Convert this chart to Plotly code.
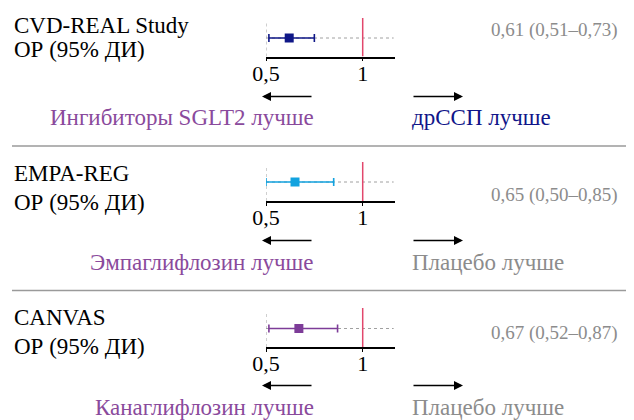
import plotly.graph_objects as go

W, H = 634, 420
OFF = 8  # page body margin: the figure is drawn 8px right/down of the window corner

# ---- data ----
studies = ["CVD-REAL Study", "EMPA-REG", "CANVAS"]
subtitle = "ОР (95% ДИ)"
hr_point = [0.62, 0.65, 0.67]
hr_lower = [0.515, 0.50, 0.515]
hr_upper = [0.75, 0.85, 0.87]
value_labels = ["0,61 (0,51–0,73)", "0,65 (0,50–0,85)", "0,67 (0,52–0,87)"]
left_labels = ["Ингибиторы SGLT2 лучше", "Эмпаглифлозин лучше", "Канаглифлозин лучше"]
right_labels = ["дрССП лучше", "Плацебо лучше", "Плацебо лучше"]
tick_vals = [0.5, 1]
tick_text = ["0,5", "1"]
x_range = [0.5, 1.167]

# ---- styles ----
FONT = "Liberation Serif"
ci_colors = ["#0f1787", "#12a2df", "#7d3c98"]
left_colors = ["#8a4a9c", "#8a4a9c", "#8a4a9c"]
right_colors = ["#101589", "#8c8c8c", "#8c8c8c"]
RED = "#e2476c"
GRAY_DOT = "#a0a0a0"

# per-panel layout, in window pixels
red_top = [18, 162, 308]
ci_y = [38, 182, 328.5]
axis_y = [56.5, 201, 347]
title_y = [25.5, 174, 317.5]
sub_y = [50, 202.5, 346]
value_y = [30, 195, 333]
arrow_y = [96.5, 240.5, 385.5]
label_y = [117.5, 262.5, 407.5]
sep_y = [146, 290.5]

def px(x):
    return (x - OFF) / W

def py(y):
    return 1 - (y - OFF) / H

fig = go.Figure()
annotations = []
shapes = []

for i in range(3):
    n = "" if i == 0 else str(i + 1)
    xa, ya = "x" + n, "y" + n
    ymin = -(axis_y[i] - ci_y[i]) / (ci_y[i] - red_top[i])
    fig.add_trace(go.Scatter(
        x=[hr_point[i]], y=[0], xaxis=xa, yaxis=ya, mode="markers",
        marker=dict(symbol="square", size=9, color=ci_colors[i]),
        error_x=dict(type="data", symmetric=False,
                     array=[hr_upper[i] - hr_point[i]],
                     arrayminus=[hr_point[i] - hr_lower[i]],
                     color=ci_colors[i], thickness=1.6, width=4),
        cliponaxis=False, showlegend=False, hoverinfo="skip"))
    fig.layout["xaxis" + n] = dict(
        domain=[px(266), px(395)], range=x_range, anchor=ya,
        showline=True, linecolor="black", linewidth=1.5,
        ticks="outside", ticklen=3, tickwidth=1, tickcolor="black",
        tickvals=tick_vals, ticktext=tick_text, automargin=False,
        ticklabelstandoff=-7,
        tickfont=dict(family=FONT, size=22, color="black"),
        showgrid=False, zeroline=False, fixedrange=True)
    fig.layout["yaxis" + n] = dict(
        domain=[py(axis_y[i]), py(red_top[i])], range=[ymin, 1], automargin=False,
        anchor=xa, visible=False, fixedrange=True)
    shapes.append(dict(type="line", xref=xa, yref=ya, x0=0.5, x1=1.16, y0=0, y1=0,
                       line=dict(color=GRAY_DOT, width=1, dash="dot"), layer="below"))
    shapes.append(dict(type="line", xref=xa, yref=ya, x0=0.5, x1=0.5, y0=ymin, y1=0.85,
                       line=dict(color=GRAY_DOT, width=1, dash="dot"), layer="below"))
    shapes.append(dict(type="line", xref=xa, yref=ya, x0=1, x1=1, y0=ymin, y1=1,
                       line=dict(color=RED, width=1.5)))
    annotations.append(dict(text=studies[i], x=px(12), y=py(title_y[i]), xref="paper", yref="paper",
                            xanchor="left", yanchor="middle", showarrow=False,
                            font=dict(family=FONT, size=23, color="black")))
    annotations.append(dict(text=subtitle, x=px(12), y=py(sub_y[i]), xref="paper", yref="paper",
                            xanchor="left", yanchor="middle", showarrow=False,
                            font=dict(family=FONT, size=23, color="black")))
    annotations.append(dict(text=value_labels[i], x=px(620), y=py(value_y[i]), xref="paper", yref="paper",
                            xanchor="right", yanchor="middle", showarrow=False,
                            font=dict(family=FONT, size=19, color="#8c8c8c")))
    annotations.append(dict(text=left_labels[i], x=px(316), y=py(label_y[i]), xref="paper", yref="paper",
                            xanchor="right", yanchor="middle", showarrow=False,
                            font=dict(family=FONT, size=23, color=left_colors[i])))
    annotations.append(dict(text=right_labels[i], x=px(410), y=py(label_y[i]), xref="paper", yref="paper",
                            xanchor="left", yanchor="middle", showarrow=False,
                            font=dict(family=FONT, size=23, color=right_colors[i])))
    annotations.append(dict(text="", x=px(262), y=py(arrow_y[i]), xref="paper", yref="paper",
                            ax=51, ay=0, axref="pixel", ayref="pixel", showarrow=True,
                            arrowhead=2, arrowsize=1.2, arrowwidth=1.5, arrowcolor="black", standoff=0))
    annotations.append(dict(text="", x=px(463), y=py(arrow_y[i]), xref="paper", yref="paper",
                            ax=-51, ay=0, axref="pixel", ayref="pixel", showarrow=True,
                            arrowhead=2, arrowsize=1.2, arrowwidth=1.5, arrowcolor="black", standoff=0))

for s in sep_y:
    shapes.append(dict(type="line", xref="paper", yref="paper", x0=px(12), x1=1,
                       y0=py(s), y1=py(s), line=dict(color="#9a9a9a", width=1.5)))

fig.update_layout(width=W, height=H, margin=dict(l=0, r=0, t=0, b=0, pad=0, autoexpand=False),
                  paper_bgcolor="white", plot_bgcolor="white",
                  annotations=annotations, shapes=shapes, showlegend=False)

fig.write_html("out.html")
